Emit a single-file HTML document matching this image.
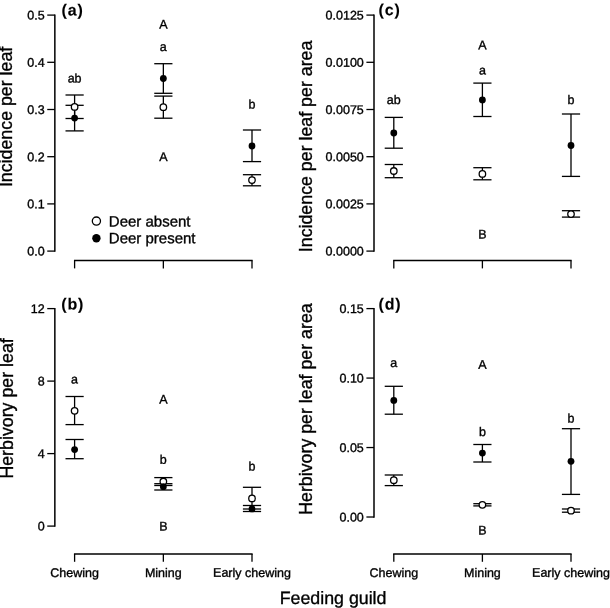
<!DOCTYPE html>
<html><head><meta charset="utf-8"><title>Figure</title>
<style>
html,body{margin:0;padding:0;background:#fff;}
svg{display:block;}
svg text{font-family:"Liberation Sans",Arial,Helvetica,sans-serif;fill:#000;stroke:#000;stroke-width:0.35px;}
svg line{stroke:#000;stroke-width:1.3;}
svg line.ax{stroke-width:1.5;}
svg text.pl{font-weight:bold;stroke-width:0.1px;letter-spacing:0.85px;}
</style></head><body>
<svg width="610" height="608" viewBox="0 0 610 608">
<rect width="610" height="608" fill="#fff"/>
<line x1="54.85" y1="14.45" x2="54.85" y2="251.75" class="ax"/>
<line x1="47.25" y1="15.10" x2="54.85" y2="15.10"/>
<text x="44.65" y="19.55" font-size="12.5" text-anchor="end" transform="rotate(0.03 44.65 19.55)">0.5</text>
<line x1="47.25" y1="62.30" x2="54.85" y2="62.30"/>
<text x="44.65" y="66.75" font-size="12.5" text-anchor="end" transform="rotate(0.03 44.65 66.75)">0.4</text>
<line x1="47.25" y1="109.50" x2="54.85" y2="109.50"/>
<text x="44.65" y="113.95" font-size="12.5" text-anchor="end" transform="rotate(0.03 44.65 113.95)">0.3</text>
<line x1="47.25" y1="156.70" x2="54.85" y2="156.70"/>
<text x="44.65" y="161.15" font-size="12.5" text-anchor="end" transform="rotate(0.03 44.65 161.15)">0.2</text>
<line x1="47.25" y1="203.90" x2="54.85" y2="203.90"/>
<text x="44.65" y="208.35" font-size="12.5" text-anchor="end" transform="rotate(0.03 44.65 208.35)">0.1</text>
<line x1="47.25" y1="251.10" x2="54.85" y2="251.10"/>
<text x="44.65" y="255.55" font-size="12.5" text-anchor="end" transform="rotate(0.03 44.65 255.55)">0.0</text>
<line x1="73.95" y1="260.60" x2="252.65" y2="260.60" class="ax"/>
<line x1="74.60" y1="260.60" x2="74.60" y2="268.40"/>
<line x1="163.35" y1="260.60" x2="163.35" y2="268.40"/>
<line x1="252.00" y1="260.60" x2="252.00" y2="268.40"/>
<line x1="374.00" y1="14.45" x2="374.00" y2="251.75" class="ax"/>
<line x1="366.40" y1="15.10" x2="374.00" y2="15.10"/>
<text x="363.80" y="19.55" font-size="12.5" text-anchor="end" transform="rotate(0.03 363.80 19.55)">0.0125</text>
<line x1="366.40" y1="62.30" x2="374.00" y2="62.30"/>
<text x="363.80" y="66.75" font-size="12.5" text-anchor="end" transform="rotate(0.03 363.80 66.75)">0.0100</text>
<line x1="366.40" y1="109.50" x2="374.00" y2="109.50"/>
<text x="363.80" y="113.95" font-size="12.5" text-anchor="end" transform="rotate(0.03 363.80 113.95)">0.0075</text>
<line x1="366.40" y1="156.70" x2="374.00" y2="156.70"/>
<text x="363.80" y="161.15" font-size="12.5" text-anchor="end" transform="rotate(0.03 363.80 161.15)">0.0050</text>
<line x1="366.40" y1="203.90" x2="374.00" y2="203.90"/>
<text x="363.80" y="208.35" font-size="12.5" text-anchor="end" transform="rotate(0.03 363.80 208.35)">0.0025</text>
<line x1="366.40" y1="251.10" x2="374.00" y2="251.10"/>
<text x="363.80" y="255.55" font-size="12.5" text-anchor="end" transform="rotate(0.03 363.80 255.55)">0.0000</text>
<line x1="393.15" y1="260.60" x2="571.65" y2="260.60" class="ax"/>
<line x1="393.80" y1="260.60" x2="393.80" y2="268.40"/>
<line x1="482.40" y1="260.60" x2="482.40" y2="268.40"/>
<line x1="571.00" y1="260.60" x2="571.00" y2="268.40"/>
<line x1="54.85" y1="307.95" x2="54.85" y2="526.75" class="ax"/>
<line x1="47.25" y1="308.60" x2="54.85" y2="308.60"/>
<text x="44.65" y="313.05" font-size="12.5" text-anchor="end" transform="rotate(0.03 44.65 313.05)">12</text>
<line x1="47.25" y1="381.10" x2="54.85" y2="381.10"/>
<text x="44.65" y="385.55" font-size="12.5" text-anchor="end" transform="rotate(0.03 44.65 385.55)">8</text>
<line x1="47.25" y1="453.60" x2="54.85" y2="453.60"/>
<text x="44.65" y="458.05" font-size="12.5" text-anchor="end" transform="rotate(0.03 44.65 458.05)">4</text>
<line x1="47.25" y1="526.10" x2="54.85" y2="526.10"/>
<text x="44.65" y="530.55" font-size="12.5" text-anchor="end" transform="rotate(0.03 44.65 530.55)">0</text>
<line x1="73.95" y1="554.00" x2="252.65" y2="554.00" class="ax"/>
<line x1="74.60" y1="554.00" x2="74.60" y2="561.80"/>
<text x="74.60" y="576.90" font-size="12.5" text-anchor="middle" transform="rotate(0.03 74.60 576.90)">Chewing</text>
<line x1="163.35" y1="554.00" x2="163.35" y2="561.80"/>
<text x="163.35" y="576.90" font-size="12.5" text-anchor="middle" transform="rotate(0.03 163.35 576.90)">Mining</text>
<line x1="252.00" y1="554.00" x2="252.00" y2="561.80"/>
<text x="252.00" y="576.90" font-size="12.5" text-anchor="middle" transform="rotate(0.03 252.00 576.90)">Early chewing</text>
<line x1="374.00" y1="307.95" x2="374.00" y2="517.66" class="ax"/>
<line x1="366.40" y1="308.60" x2="374.00" y2="308.60"/>
<text x="363.80" y="313.05" font-size="12.5" text-anchor="end" transform="rotate(0.03 363.80 313.05)">0.15</text>
<line x1="366.40" y1="378.07" x2="374.00" y2="378.07"/>
<text x="363.80" y="382.52" font-size="12.5" text-anchor="end" transform="rotate(0.03 363.80 382.52)">0.10</text>
<line x1="366.40" y1="447.54" x2="374.00" y2="447.54"/>
<text x="363.80" y="451.99" font-size="12.5" text-anchor="end" transform="rotate(0.03 363.80 451.99)">0.05</text>
<line x1="366.40" y1="517.01" x2="374.00" y2="517.01"/>
<text x="363.80" y="521.46" font-size="12.5" text-anchor="end" transform="rotate(0.03 363.80 521.46)">0.00</text>
<line x1="393.15" y1="554.00" x2="571.65" y2="554.00" class="ax"/>
<line x1="393.80" y1="554.00" x2="393.80" y2="561.80"/>
<text x="393.80" y="576.90" font-size="12.5" text-anchor="middle" transform="rotate(0.03 393.80 576.90)">Chewing</text>
<line x1="482.40" y1="554.00" x2="482.40" y2="561.80"/>
<text x="482.40" y="576.90" font-size="12.5" text-anchor="middle" transform="rotate(0.03 482.40 576.90)">Mining</text>
<line x1="571.00" y1="554.00" x2="571.00" y2="561.80"/>
<text x="571.00" y="576.90" font-size="12.5" text-anchor="middle" transform="rotate(0.03 571.00 576.90)">Early chewing</text>
<line x1="74.60" y1="95.00" x2="74.60" y2="118.50"/>
<line x1="65.50" y1="95.00" x2="83.70" y2="95.00"/>
<line x1="65.50" y1="118.50" x2="83.70" y2="118.50"/>
<line x1="74.60" y1="105.30" x2="74.60" y2="130.90"/>
<line x1="65.50" y1="105.30" x2="83.70" y2="105.30"/>
<line x1="65.50" y1="130.90" x2="83.70" y2="130.90"/>
<line x1="163.35" y1="96.10" x2="163.35" y2="118.20"/>
<line x1="154.25" y1="96.10" x2="172.45" y2="96.10"/>
<line x1="154.25" y1="118.20" x2="172.45" y2="118.20"/>
<line x1="163.35" y1="63.70" x2="163.35" y2="93.30"/>
<line x1="154.25" y1="63.70" x2="172.45" y2="63.70"/>
<line x1="154.25" y1="93.30" x2="172.45" y2="93.30"/>
<line x1="252.00" y1="174.70" x2="252.00" y2="185.80"/>
<line x1="242.90" y1="174.70" x2="261.10" y2="174.70"/>
<line x1="242.90" y1="185.80" x2="261.10" y2="185.80"/>
<line x1="252.00" y1="130.00" x2="252.00" y2="161.60"/>
<line x1="242.90" y1="130.00" x2="261.10" y2="130.00"/>
<line x1="242.90" y1="161.60" x2="261.10" y2="161.60"/>
<line x1="393.80" y1="164.50" x2="393.80" y2="177.70"/>
<line x1="384.70" y1="164.50" x2="402.90" y2="164.50"/>
<line x1="384.70" y1="177.70" x2="402.90" y2="177.70"/>
<line x1="393.80" y1="117.40" x2="393.80" y2="148.20"/>
<line x1="384.70" y1="117.40" x2="402.90" y2="117.40"/>
<line x1="384.70" y1="148.20" x2="402.90" y2="148.20"/>
<line x1="482.40" y1="167.70" x2="482.40" y2="179.80"/>
<line x1="473.30" y1="167.70" x2="491.50" y2="167.70"/>
<line x1="473.30" y1="179.80" x2="491.50" y2="179.80"/>
<line x1="482.40" y1="83.10" x2="482.40" y2="116.50"/>
<line x1="473.30" y1="83.10" x2="491.50" y2="83.10"/>
<line x1="473.30" y1="116.50" x2="491.50" y2="116.50"/>
<line x1="571.00" y1="210.70" x2="571.00" y2="217.10"/>
<line x1="561.90" y1="210.70" x2="580.10" y2="210.70"/>
<line x1="561.90" y1="217.10" x2="580.10" y2="217.10"/>
<line x1="571.00" y1="114.00" x2="571.00" y2="176.40"/>
<line x1="561.90" y1="114.00" x2="580.10" y2="114.00"/>
<line x1="561.90" y1="176.40" x2="580.10" y2="176.40"/>
<line x1="74.60" y1="396.50" x2="74.60" y2="424.60"/>
<line x1="65.50" y1="396.50" x2="83.70" y2="396.50"/>
<line x1="65.50" y1="424.60" x2="83.70" y2="424.60"/>
<line x1="74.60" y1="439.50" x2="74.60" y2="458.70"/>
<line x1="65.50" y1="439.50" x2="83.70" y2="439.50"/>
<line x1="65.50" y1="458.70" x2="83.70" y2="458.70"/>
<line x1="163.35" y1="477.60" x2="163.35" y2="485.50"/>
<line x1="154.25" y1="477.60" x2="172.45" y2="477.60"/>
<line x1="154.25" y1="485.50" x2="172.45" y2="485.50"/>
<line x1="163.35" y1="483.70" x2="163.35" y2="490.00"/>
<line x1="154.25" y1="483.70" x2="172.45" y2="483.70"/>
<line x1="154.25" y1="490.00" x2="172.45" y2="490.00"/>
<line x1="252.00" y1="487.30" x2="252.00" y2="509.00"/>
<line x1="242.90" y1="487.30" x2="261.10" y2="487.30"/>
<line x1="242.90" y1="509.00" x2="261.10" y2="509.00"/>
<line x1="252.00" y1="505.50" x2="252.00" y2="511.50"/>
<line x1="242.90" y1="505.50" x2="261.10" y2="505.50"/>
<line x1="242.90" y1="511.50" x2="261.10" y2="511.50"/>
<line x1="393.80" y1="475.00" x2="393.80" y2="485.60"/>
<line x1="384.70" y1="475.00" x2="402.90" y2="475.00"/>
<line x1="384.70" y1="485.60" x2="402.90" y2="485.60"/>
<line x1="393.80" y1="386.30" x2="393.80" y2="414.20"/>
<line x1="384.70" y1="386.30" x2="402.90" y2="386.30"/>
<line x1="384.70" y1="414.20" x2="402.90" y2="414.20"/>
<line x1="482.40" y1="503.70" x2="482.40" y2="505.90"/>
<line x1="473.30" y1="503.70" x2="491.50" y2="503.70"/>
<line x1="473.30" y1="505.90" x2="491.50" y2="505.90"/>
<line x1="482.40" y1="444.50" x2="482.40" y2="462.00"/>
<line x1="473.30" y1="444.50" x2="491.50" y2="444.50"/>
<line x1="473.30" y1="462.00" x2="491.50" y2="462.00"/>
<line x1="571.00" y1="509.00" x2="571.00" y2="512.20"/>
<line x1="561.90" y1="509.00" x2="580.10" y2="509.00"/>
<line x1="561.90" y1="512.20" x2="580.10" y2="512.20"/>
<line x1="571.00" y1="428.70" x2="571.00" y2="494.40"/>
<line x1="561.90" y1="428.70" x2="580.10" y2="428.70"/>
<line x1="561.90" y1="494.40" x2="580.10" y2="494.40"/>
<circle cx="74.60" cy="106.90" r="3.25" fill="#fff" stroke="#000" stroke-width="1.3"/>
<circle cx="163.35" cy="107.20" r="3.25" fill="#fff" stroke="#000" stroke-width="1.3"/>
<circle cx="252.00" cy="180.10" r="3.25" fill="#fff" stroke="#000" stroke-width="1.3"/>
<circle cx="393.80" cy="171.00" r="3.25" fill="#fff" stroke="#000" stroke-width="1.3"/>
<circle cx="482.40" cy="173.90" r="3.25" fill="#fff" stroke="#000" stroke-width="1.3"/>
<circle cx="571.00" cy="214.10" r="3.25" fill="#fff" stroke="#000" stroke-width="1.3"/>
<circle cx="74.60" cy="410.80" r="3.25" fill="#fff" stroke="#000" stroke-width="1.3"/>
<circle cx="163.35" cy="481.50" r="3.25" fill="#fff" stroke="#000" stroke-width="1.3"/>
<circle cx="252.00" cy="498.40" r="3.25" fill="#fff" stroke="#000" stroke-width="1.3"/>
<circle cx="393.80" cy="480.20" r="3.25" fill="#fff" stroke="#000" stroke-width="1.3"/>
<circle cx="482.40" cy="504.80" r="3.25" fill="#fff" stroke="#000" stroke-width="1.3"/>
<circle cx="571.00" cy="510.70" r="3.25" fill="#fff" stroke="#000" stroke-width="1.3"/>
<circle cx="74.60" cy="118.10" r="3.4" fill="#000"/>
<circle cx="163.35" cy="78.50" r="3.4" fill="#000"/>
<circle cx="252.00" cy="146.00" r="3.4" fill="#000"/>
<circle cx="393.80" cy="133.00" r="3.4" fill="#000"/>
<circle cx="482.40" cy="99.90" r="3.4" fill="#000"/>
<circle cx="571.00" cy="145.50" r="3.4" fill="#000"/>
<circle cx="74.60" cy="449.60" r="3.4" fill="#000"/>
<circle cx="163.35" cy="486.70" r="3.4" fill="#000"/>
<circle cx="252.00" cy="508.90" r="3.4" fill="#000"/>
<circle cx="393.80" cy="400.40" r="3.4" fill="#000"/>
<circle cx="482.40" cy="453.10" r="3.4" fill="#000"/>
<circle cx="571.00" cy="461.30" r="3.4" fill="#000"/>
<circle cx="96.4" cy="221.1" r="4.1" fill="#fff" stroke="#000" stroke-width="1.3"/>
<circle cx="96.4" cy="238.2" r="4.2" fill="#000"/>
<text x="108.80" y="226.40" font-size="15" transform="rotate(0.03 108.80 226.40)">Deer absent</text>
<text x="108.80" y="243.30" font-size="15" transform="rotate(0.03 108.80 243.30)">Deer present</text>
<text x="74.60" y="82.50" font-size="12.5" text-anchor="middle" transform="rotate(0.03 74.60 82.50)">ab</text>
<text x="163.35" y="28.40" font-size="12.5" text-anchor="middle" transform="rotate(0.03 163.35 28.40)">A</text>
<text x="163.35" y="51.00" font-size="12.5" text-anchor="middle" transform="rotate(0.03 163.35 51.00)">a</text>
<text x="163.35" y="161.00" font-size="12.5" text-anchor="middle" transform="rotate(0.03 163.35 161.00)">A</text>
<text x="252.00" y="108.60" font-size="12.5" text-anchor="middle" transform="rotate(0.03 252.00 108.60)">b</text>
<text x="393.80" y="104.10" font-size="12.5" text-anchor="middle" transform="rotate(0.03 393.80 104.10)">ab</text>
<text x="482.40" y="49.30" font-size="12.5" text-anchor="middle" transform="rotate(0.03 482.40 49.30)">A</text>
<text x="482.40" y="74.50" font-size="12.5" text-anchor="middle" transform="rotate(0.03 482.40 74.50)">a</text>
<text x="482.40" y="238.60" font-size="12.5" text-anchor="middle" transform="rotate(0.03 482.40 238.60)">B</text>
<text x="571.00" y="104.10" font-size="12.5" text-anchor="middle" transform="rotate(0.03 571.00 104.10)">b</text>
<text x="74.60" y="383.60" font-size="12.5" text-anchor="middle" transform="rotate(0.03 74.60 383.60)">a</text>
<text x="163.35" y="403.50" font-size="12.5" text-anchor="middle" transform="rotate(0.03 163.35 403.50)">A</text>
<text x="163.35" y="463.70" font-size="12.5" text-anchor="middle" transform="rotate(0.03 163.35 463.70)">b</text>
<text x="163.35" y="530.50" font-size="12.5" text-anchor="middle" transform="rotate(0.03 163.35 530.50)">B</text>
<text x="252.00" y="470.60" font-size="12.5" text-anchor="middle" transform="rotate(0.03 252.00 470.60)">b</text>
<text x="393.80" y="367.00" font-size="12.5" text-anchor="middle" transform="rotate(0.03 393.80 367.00)">a</text>
<text x="482.40" y="368.70" font-size="12.5" text-anchor="middle" transform="rotate(0.03 482.40 368.70)">A</text>
<text x="482.40" y="436.10" font-size="12.5" text-anchor="middle" transform="rotate(0.03 482.40 436.10)">b</text>
<text x="482.40" y="534.60" font-size="12.5" text-anchor="middle" transform="rotate(0.03 482.40 534.60)">B</text>
<text x="571.00" y="422.50" font-size="12.5" text-anchor="middle" transform="rotate(0.03 571.00 422.50)">b</text>
<text x="61.50" y="15.50" font-size="16" class="pl" transform="rotate(0.03 61.50 15.50)">(a)</text>
<text x="378.50" y="15.30" font-size="16" class="pl" transform="rotate(0.03 378.50 15.30)">(c)</text>
<text x="61.30" y="309.50" font-size="16" class="pl" transform="rotate(0.03 61.30 309.50)">(b)</text>
<text x="378.50" y="309.50" font-size="16" class="pl" transform="rotate(0.03 378.50 309.50)">(d)</text>
<text x="12.50" y="187.10" font-size="17.8" transform="rotate(-90 12.50 187.10)">Incidence per leaf</text>
<text x="311.80" y="252.20" font-size="17.8" transform="rotate(-90 311.80 252.20)">Incidence per leaf per area</text>
<text x="12.90" y="478.60" font-size="17.8" transform="rotate(-90 12.90 478.60)">Herbivory per leaf</text>
<text x="312.00" y="514.80" font-size="17.8" transform="rotate(-90 312.00 514.80)">Herbivory per leaf per area</text>
<text x="279.70" y="604.00" font-size="17.8" transform="rotate(0.03 279.70 604.00)">Feeding guild</text>
</svg>
</body></html>
